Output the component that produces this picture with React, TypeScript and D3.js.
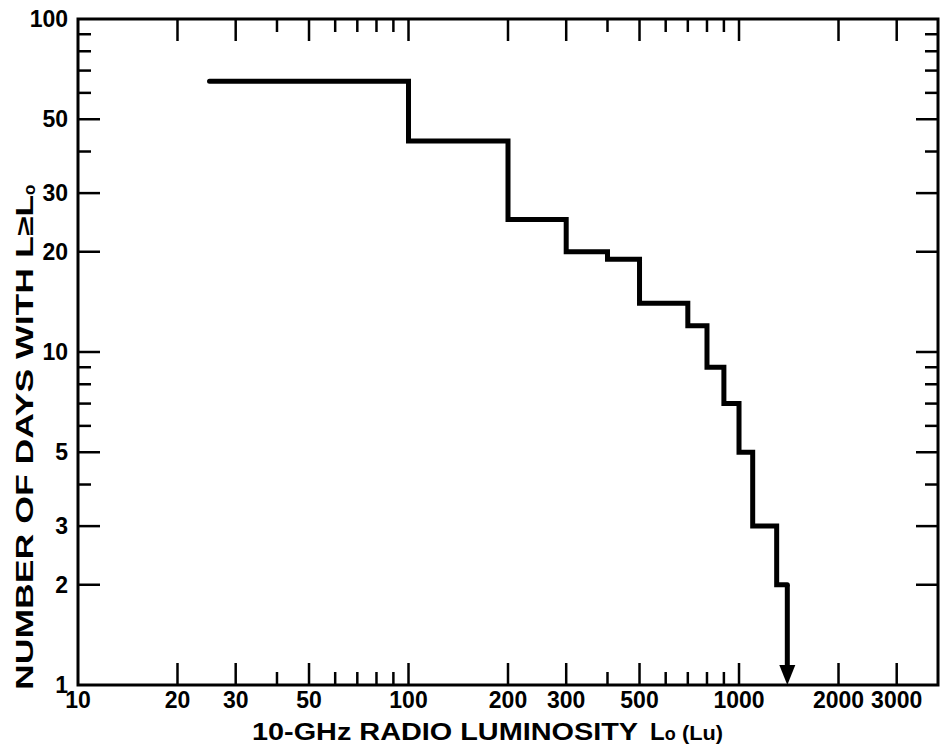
import React from 'react';
import * as d3 from 'd3';

// luminosity thresholds (Lu) where the step changes, and number of days for each step
const lumEdges = [25, 100, 200, 300, 400, 500, 700, 800, 900, 1000, 1100, 1300, 1400];
const dayCounts = [65, 43, 25, 20, 19, 14, 12, 9, 7, 5, 3, 2];

const xLabeled = [10, 20, 30, 50, 100, 200, 300, 500, 1000, 2000, 3000];
const xMinor = [40, 60, 70, 80, 90, 400, 600, 700, 800, 900];
const yLabeled = [1, 2, 3, 5, 10, 20, 30, 50, 100];
const yMinor = [4, 6, 7, 8, 9, 40, 60, 70, 80, 90];

const W = 947, H = 751;
const left = 78, right = 938, top = 19, bottom = 685;
const font = '"Liberation Sans", Arial, sans-serif';

export default function App() {
  const x = d3.scaleLog().domain([10, 4000]).range([left, right]);
  const y = d3.scaleLog().domain([1, 100]).range([bottom, top]);

  const pts: [number, number][] = lumEdges.map((l, i) => [l, dayCounts[Math.min(i, dayCounts.length - 1)]]);
  const step = d3.line<[number, number]>()
    .x(d => x(d[0]))
    .y(d => y(d[1]))
    .curve(d3.curveStepAfter)(pts) as string;

  const arrowX = x(lumEdges[lumEdges.length - 1]);
  const arrowTop = y(dayCounts[dayCounts.length - 1]);

  const long = 22, short = 13;
  const xTicks = [...xLabeled.map(v => ({ v, len: long })), ...xMinor.map(v => ({ v, len: short }))]
    .filter(t => t.v > 10);
  const yTicks = [...yLabeled.map(v => ({ v, len: long })), ...yMinor.map(v => ({ v, len: short }))]
    .filter(t => t.v > 1 && t.v < 100);

  return (
    <svg width={W} height={H} style={{ position: 'absolute', left: 0, top: 0, background: '#fff' }}>
      <rect x={left} y={top} width={right - left} height={bottom - top} fill="none" stroke="#000" strokeWidth={3} />
      {xTicks.map(t => (
        <g key={'x' + t.v} stroke="#000" strokeWidth={2.5}>
          <line x1={x(t.v)} x2={x(t.v)} y1={bottom} y2={bottom - t.len} />
          <line x1={x(t.v)} x2={x(t.v)} y1={top} y2={top + t.len} />
        </g>
      ))}
      {yTicks.map(t => (
        <g key={'y' + t.v} stroke="#000" strokeWidth={2.5}>
          <line x1={left} x2={left + t.len} y1={y(t.v)} y2={y(t.v)} />
          <line x1={right} x2={right - t.len} y1={y(t.v)} y2={y(t.v)} />
        </g>
      ))}
      {xLabeled.map(v => (
        <text key={'xl' + v} x={x(v)} y={708} textAnchor="middle" fontFamily={font} fontWeight="bold" fontSize={23}>
          {v}
        </text>
      ))}
      {yLabeled.map(v => (
        <text key={'yl' + v} x={68} y={y(v) + 8} textAnchor="end" fontFamily={font} fontWeight="bold" fontSize={23}>
          {v}
        </text>
      ))}
      <path d={step} fill="none" stroke="#000" strokeWidth={5} strokeLinejoin="miter" strokeLinecap="round" />
      <line x1={arrowX} x2={arrowX} y1={arrowTop} y2={bottom - 16} stroke="#000" strokeWidth={5} />
      <polygon points={`${arrowX - 8},${bottom - 20} ${arrowX + 8},${bottom - 20} ${arrowX},${bottom}`} fill="#000" />
      <text x={252} y={740} fontFamily={font} fontSize={24} fontWeight="bold">
        <tspan textLength={386} lengthAdjust="spacingAndGlyphs">10-GHz RADIO LUMINOSITY</tspan>
        <tspan x={650}>L</tspan><tspan fontSize={18}>o</tspan>
        <tspan x={682} fontSize={21} textLength={41} lengthAdjust="spacingAndGlyphs">(Lu)</tspan>
      </text>
      <text transform={`translate(33,690) rotate(-90)`}
        fontFamily={font} fontSize={24} fontWeight="bold">
        <tspan textLength={495} lengthAdjust="spacingAndGlyphs">NUMBER OF DAYS WITH L≥L</tspan>
        <tspan fontSize={17} dy={2}>o</tspan>
      </text>
    </svg>
  );
}
